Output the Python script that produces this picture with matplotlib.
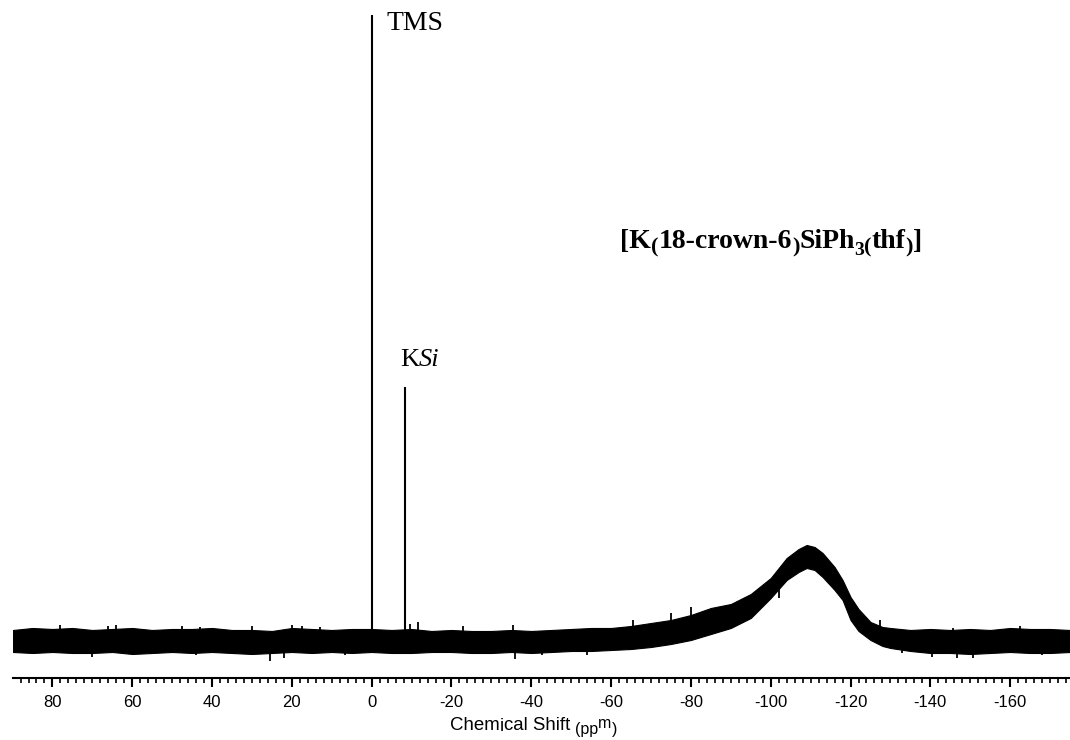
import numpy as np
import matplotlib.pyplot as plt
from matplotlib.ticker import MultipleLocator

plt.rcParams['font.family'] = ['Liberation Sans', 'DejaVu Sans']
plt.rcParams['axes.unicode_minus'] = False

# noise band of the 29Si spectrum (intensity in px above baseline)
band_ppm = [89.9, 85, 80, 75, 70, 65, 60, 55, 50, 45, 40, 35, 30, 25, 20, 15, 10, 5, 0,
            -5, -10, -15, -20, -25, -30, -35, -40, -45, -50, -55, -60, -65, -70, -75,
            -80, -85, -90, -95, -100, -104, -107, -109, -111, -113, -116, -118, -120,
            -122, -125, -128, -130, -135, -140, -145, -150, -155, -160, -165, -170, -175]
band_top = [11, 13, 12, 13, 11, 12, 13, 11, 12, 12, 13, 11, 11, 10, 13, 12, 11, 12, 12,
            11, 12, 10, 11, 10, 10, 11, 10, 11, 12, 13, 13, 15, 18, 21,
            26, 33, 37, 47, 63, 83, 92, 96, 94, 88, 74, 61, 44,
            32, 19, 14, 13, 11, 12, 11, 12, 11, 13, 12, 12, 11]
band_low = [-11, -12, -11, -12, -12, -11, -13, -12, -11, -12, -11, -12, -13, -12, -11, -12, -11, -12, -11,
            -12, -12, -11, -11, -12, -12, -11, -12, -11, -10, -10, -9, -8, -6, -3,
            1, 7, 13, 23, 43, 61, 69, 73, 71, 64, 51, 41, 21,
            10, 1, -5, -7, -10, -12, -12, -13, -12, -11, -12, -12, -11]

# isolated noise spikes sticking out of the band
spike_ppm = [78, 66, 64, 47.5, 43, 30, 20, 17.5, 13, -9.6, -11.6, -23, -35.5, -65.5, -75, -80,
             -127.5, -145.7, -162.5,
             70, 44, 25.5, 22, 6.7, -30.5, -36, -42.7, -54, -82.8, -94, -102,
             -133, -140.4, -146.8, -150.7, -168]
spike_val = [16, 15, 16, 15, 14, 15, 16, 15, 14, 17, 19, 15, 16, 21, 28, 34,
             21, 13, 15,
             -16, -14, -20, -17, -14, -12, -18, -14, -14, 6, 21, 43,
             -12, -16, -17, -17, -14]

# sharp lines
peak_ppm = [0.0, -8.4]
peak_val = [626, 254]
peak_names = ['TMS', 'KSi']

fig = plt.figure(figsize=(10.7, 7.4), dpi=100)
ax = fig.add_axes([0.0121, 0.0838, 0.9879, 0.9027])

ax.fill_between(band_ppm, band_low, band_top, color='black', lw=0.8)
mid = [(a + b) / 2 for a, b in zip(band_top, band_low)]
for p, v in zip(spike_ppm, spike_val):
    base = np.interp(-p, [-q for q in band_ppm], mid)
    ax.vlines(p, base, v, color='black', lw=1.3)
ax.vlines(peak_ppm, 0, peak_val, color='black', lw=1.5)

ax.set_xlim(89.9, -175.0)
ax.set_ylim(-37, 631)

for s in ['left', 'right', 'top']:
    ax.spines[s].set_visible(False)
ax.spines['bottom'].set_linewidth(1.5)
ax.set_yticks([])
ax.xaxis.set_major_locator(MultipleLocator(20))
ax.xaxis.set_minor_locator(MultipleLocator(2))
ax.tick_params(axis='x', which='major', direction='out', length=6.5, width=1.5,
               labelsize=12, pad=5.5)
ax.tick_params(axis='x', which='minor', direction='out', length=3.5, width=1.2)

serif = ['Liberation Serif', 'DejaVu Serif']
ax.text(-3.8, 611, peak_names[0], family=serif, fontsize=20, va='baseline')
t = ax.text(-7.1, 275, 'K', family=serif, fontsize=19, va='baseline')
ax.annotate('Si', xy=(1, 0), xycoords=t, va='bottom', family=serif,
            fontsize=19, style='italic')


def chain(first, pieces):
    # place text pieces one after another, with vertical shifts in px
    prev, prev_dy = first, 0
    for s, dy, size in pieces:
        prev = ax.annotate(s, xy=(1, 0), xycoords=prev, xytext=(0, (dy - prev_dy) * 0.72),
                           textcoords='offset points', va='bottom', ha='left',
                           fontsize=size, annotation_clip=False,
                           family=first.get_family(), weight=first.get_weight())
        prev_dy = dy


lab = ax.text(-62.3, 393, '[K', family=serif, fontsize=20, weight='bold', va='baseline')
chain(lab, [('(', -3, 16), ('18-crown-6', 0, 20), (')', -3, 16), ('SiPh', 0, 20),
            ('3', -5, 14), ('(', -3, 16), ('thf', 0, 20), (')', -3, 16), (']', 0, 20)])

xl = fig.text(450 / 1070, 10 / 740, 'Chem', fontsize=13.4, va='baseline')
chain(xl, [('i', -1, 13.4), ('cal Shift ', 0, 13.4), ('(pp', -3, 11.5), ('m', 3, 11.5),
           (')', -3, 11.5)])

fig.savefig('out.png', dpi=100)
